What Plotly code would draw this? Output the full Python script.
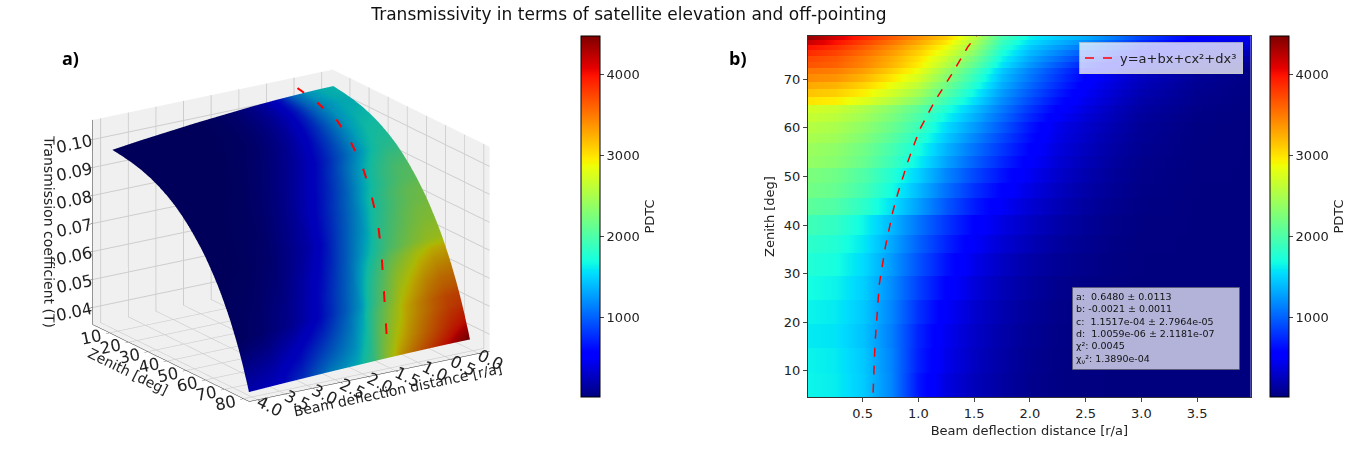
import numpy as np
import plotly.graph_objects as go

# beam deflection columns [r/a] and zenith band edges [deg]
r_cols = [0.0, 0.25, 0.5, 0.75, 1.0, 1.25, 1.5, 1.75, 2.0, 2.25, 2.5, 2.75, 3.0, 3.5, 4.0]
zen_edges = [4.6, 9.6, 14.6, 19.7, 24.6, 29.5, 34.2, 38.0, 42.0, 45.5, 48.6, 51.7, 54.3,
             56.9, 59.0, 61.3, 63.0, 64.7, 66.4, 67.9, 69.5, 71.0, 72.4, 73.6, 74.8,
             76.0, 77.1, 78.1, 78.9]

# PDTC per zenith band (bottom -> top), one value per r column
pdtc = [
    [1650, 1610, 1460, 1160, 660, 380, 240, 140, 65, 30, 15, 10, 10, 10, 10],
    [1640, 1600, 1450, 1150, 700, 420, 265, 155, 75, 33, 16, 10, 10, 10, 10],
    [1600, 1570, 1420, 1130, 720, 445, 285, 170, 88, 40, 20, 10, 10, 10, 10],
    [1640, 1600, 1450, 1160, 780, 490, 315, 195, 105, 50, 25, 12, 10, 10, 10],
    [1690, 1640, 1480, 1190, 850, 560, 360, 225, 130, 65, 35, 15, 10, 10, 10],
    [1760, 1700, 1530, 1250, 930, 640, 420, 270, 165, 95, 55, 25, 12, 10, 10],
    [1820, 1760, 1590, 1310, 1000, 720, 490, 330, 220, 130, 75, 35, 15, 10, 10],
    [1920, 1850, 1650, 1380, 1080, 800, 560, 390, 270, 170, 100, 50, 20, 10, 10],
    [2080, 2010, 1820, 1560, 1270, 950, 680, 480, 330, 220, 130, 70, 30, 10, 10],
    [2200, 2130, 1950, 1690, 1390, 1060, 780, 560, 390, 260, 160, 90, 40, 12, 10],
    [2250, 2180, 2010, 1770, 1490, 1160, 880, 640, 450, 300, 190, 110, 50, 15, 10],
    [2380, 2310, 2140, 1900, 1620, 1280, 990, 730, 510, 340, 220, 130, 60, 18, 10],
    [2420, 2350, 2190, 1960, 1700, 1360, 1070, 800, 560, 370, 250, 150, 75, 20, 10],
    [2500, 2440, 2280, 2060, 1800, 1450, 1160, 870, 610, 400, 280, 170, 90, 22, 10],
    [2560, 2500, 2350, 2150, 1900, 1530, 1250, 950, 650, 420, 300, 190, 100, 25, 10],
    [2650, 2590, 2440, 2240, 1990, 1640, 1340, 1030, 730, 490, 340, 220, 120, 35, 12],
    [2720, 2670, 2520, 2320, 2080, 1740, 1420, 1100, 800, 550, 380, 250, 145, 45, 15],
    [3000, 2950, 2790, 2560, 2300, 1900, 1550, 1180, 880, 620, 430, 290, 170, 60, 18],
    [3150, 3100, 2950, 2720, 2460, 2050, 1650, 1250, 950, 680, 470, 320, 200, 70, 20],
    [3280, 3230, 3080, 2860, 2600, 2180, 1760, 1330, 1020, 750, 510, 360, 230, 85, 23],
    [3420, 3380, 3220, 2990, 2730, 2300, 1860, 1390, 1080, 800, 550, 390, 260, 100, 27],
    [3520, 3480, 3330, 3100, 2850, 2400, 1950, 1450, 1130, 850, 590, 420, 280, 110, 30],
    [3680, 3620, 3450, 3220, 2960, 2560, 2100, 1570, 1230, 950, 700, 520, 370, 170, 80],
    [3740, 3660, 3480, 3260, 3010, 2650, 2200, 1640, 1300, 1050, 810, 620, 460, 240, 140],
    [3880, 3760, 3570, 3340, 3090, 2760, 2320, 1720, 1380, 1150, 930, 740, 560, 320, 220],
    [4000, 3860, 3650, 3420, 3170, 2870, 2420, 1800, 1450, 1250, 1060, 860, 660, 400, 300],
    [4200, 4000, 3770, 3530, 3280, 2980, 2510, 1880, 1540, 1350, 1190, 980, 760, 470, 370],
    [4400, 4150, 3900, 3650, 3400, 3100, 2600, 1950, 1620, 1450, 1320, 1100, 850, 520, 430],
]

# transmission coefficient per zenith band (at r=0) and its fall-off with r (panel a)
T_zen = [0.1040, 0.1035, 0.1028, 0.1018, 0.1004, 0.0986, 0.0966, 0.0944, 0.0918, 0.0892,
         0.0864, 0.0836, 0.0808, 0.0779, 0.0750, 0.0722, 0.0696, 0.0668, 0.0640, 0.0612,
         0.0580, 0.0550, 0.0521, 0.0492, 0.0462, 0.0430, 0.0402, 0.0375]
T_r = [1.0, 0.9995, 0.998, 0.996, 0.994, 0.991, 0.988, 0.984, 0.98, 0.976, 0.972,
       0.967, 0.962, 0.952, 0.94]

# cubic fit y=a+bx+cx^2+dx^3 (dashed red), read as points
fit_zen = [5.5, 15.6, 27.9, 35.5, 42.7, 46.5, 53.0, 59.6, 65.4, 70.9, 76.7, 78.9]
fit_r = [0.594, 0.611, 0.650, 0.704, 0.770, 0.815, 0.905, 1.010, 1.145, 1.295, 1.444, 1.520]
fit_T = [0.1052, 0.1040, 0.1013, 0.0978, 0.0935, 0.0905, 0.0845, 0.0768, 0.0680, 0.0578,
         0.0437, 0.0382]

fit_lines = ["a:  0.6480 ± 0.0113", "b: -0.0021 ± 0.0011",
             "c:  1.1517e-04 ± 2.7964e-05", "d:  1.0059e-06 ± 2.1181e-07",
             "χ²: 0.0045", "χ<sub>ν</sub>²: 1.3890e-04"]

PDTC_MIN, PDTC_MAX = 10, 4480


def mpl_jet():
    # matplotlib's jet (plotly's 'Jet' is a different ramp)
    pts = [0, 0.11, 0.125, 0.34, 0.35, 0.375, 0.64, 0.65, 0.66, 0.89, 0.91, 1]
    r = np.interp(pts, [0, 0.35, 0.66, 0.89, 1], [0, 0, 1, 1, 0.5])
    g = np.interp(pts, [0, 0.125, 0.375, 0.64, 0.91, 1], [0, 0, 1, 1, 0, 0])
    b = np.interp(pts, [0, 0.11, 0.34, 0.65, 1], [0.5, 1, 1, 0, 0])
    return [[p, f"rgb({int(255*a)},{int(255*c)},{int(255*d)})"] for p, a, c, d in zip(pts, r, g, b)]


jet = mpl_jet()
W, H = 1354, 455
TOP, BOT = 36, 0
ph = H - TOP - BOT
y0 = (H - 397) / ph          # bottom of the 2d panel in paper coords
ylen = 361 / ph

zen_mid = [(a + b) / 2 for a, b in zip(zen_edges[:-1], zen_edges[1:])]
T_grid = np.outer(T_zen, T_r)

# keep each zenith band flat: two rows per band just inside its edges
eps = 0.01
y_band, z_band = [], []
for i, row in enumerate(pdtc):
    y_band += [zen_edges[i] + eps, zen_edges[i + 1] - eps]
    z_band += [row, row]


def cbar(x):
    return dict(x=x, xanchor="left", y=y0, yanchor="bottom", len=ylen, lenmode="fraction",
                thickness=19, outlinewidth=1, outlinecolor="black", xpad=0, ypad=0,
                tickvals=[1000, 2000, 3000, 4000], ticks="outside", ticklen=4,
                tickfont=dict(size=13, color="#222"),
                title=dict(text="PDTC", side="right", font=dict(size=13, color="#222")))


fig = go.Figure()

fig.add_trace(go.Surface(
    x=r_cols, y=zen_mid, z=T_grid, surfacecolor=pdtc,
    colorscale=jet, cmin=PDTC_MIN, cmax=PDTC_MAX,
    colorbar=cbar(581 / W), showscale=True, scene="scene",
    lighting=dict(ambient=0.72, diffuse=0.4, specular=0.03, roughness=0.9),
    lightposition=dict(x=1000, y=2000, z=3000),
))
fig.add_trace(go.Scatter3d(
    x=fit_r, y=fit_zen, z=fit_T, mode="lines", scene="scene",
    line=dict(color="red", width=4, dash="longdash"), showlegend=False,
))

fig.add_trace(go.Heatmap(
    x=r_cols, y=y_band, z=z_band, colorscale=jet, zmin=PDTC_MIN, zmax=PDTC_MAX,
    zsmooth="best", colorbar=cbar(1270 / W), xaxis="x", yaxis="y", showscale=True,
))
fig.add_trace(go.Scatter(
    x=fit_r, y=fit_zen, mode="lines", name="y=a+bx+cx²+dx³",
    line=dict(color="red", width=1.5, dash="dash"), xaxis="x", yaxis="y",
))

axis3d = dict(showbackground=True, backgroundcolor="rgb(240,240,240)",
              gridcolor="rgb(205,205,205)", zeroline=False, showspikes=False,
              tickfont=dict(size=14, color="#222"), ticks="outside", ticklen=4,
              linecolor="#333", showline=True)

fig.update_layout(
    width=W, height=H,
    margin=dict(l=0, r=0, t=TOP, b=BOT),
    paper_bgcolor="white", plot_bgcolor="white",
    font=dict(family="DejaVu Sans", size=13, color="#222"),
    title=dict(text="Transmissivity in terms of satellite elevation and off-pointing",
               x=629 / W, xanchor="center", y=1 - 14 / H, yanchor="middle",
               font=dict(size=17, color="#111")),
    scene=dict(
        domain=dict(x=[0.0, 0.43], y=[0.0, 1.0]),
        xaxis=dict(axis3d, title=dict(text="Beam deflection distance [r/a]", font=dict(size=14)),
                   range=[-0.2, 4.15], tickvals=[0, 0.5, 1, 1.5, 2, 2.5, 3, 3.5, 4],
                   tickformat=".1f"),
        yaxis=dict(axis3d, title=dict(text="Zenith [deg]", font=dict(size=14)),
                   range=[1, 83], tickvals=[10, 20, 30, 40, 50, 60, 70, 80]),
        zaxis=dict(axis3d, title=dict(text="Transmission coefficient (T)", font=dict(size=14)),
                   range=[0.034, 0.107], tickvals=[0.04, 0.05, 0.06, 0.07, 0.08, 0.09, 0.10],
                   tickformat=".2f"),
        aspectmode="manual", aspectratio=dict(x=1.37, y=1.37, z=1.03),
        camera=dict(eye=dict(x=0.79, y=1.21, z=0.44), up=dict(x=0, y=0, z=1),
                    center=dict(x=0, y=0, z=-0.05),
                    projection=dict(type="orthographic")),
    ),
    xaxis=dict(domain=[808 / W, 1250.7 / W], range=[0.01, 3.98], anchor="y",
               tickvals=[0.5, 1, 1.5, 2, 2.5, 3, 3.5], tickformat=".1f",
               tickfont=dict(size=13), ticks="outside", ticklen=4, showline=True,
               mirror=True, linecolor="#333", showgrid=False, zeroline=False,
               title=dict(text="Beam deflection distance [r/a]", font=dict(size=13), standoff=6)),
    yaxis=dict(domain=[y0, 1.0], range=[4.6, 78.9], anchor="x",
               tickvals=[10, 20, 30, 40, 50, 60, 70], tickfont=dict(size=13),
               ticks="outside", ticklen=4, showline=True, mirror=True, linecolor="#333",
               showgrid=False, zeroline=False,
               title=dict(text="Zenith [deg]", font=dict(size=13), standoff=6)),
    showlegend=True,
    legend=dict(x=1243 / W, xanchor="right", y=(H - 42) / ph, yanchor="top",
                bgcolor="rgba(255,255,255,0.75)", bordercolor="rgba(200,200,200,0.8)",
                borderwidth=1, font=dict(size=13)),
    annotations=[
        dict(text="<b>a)</b>", x=60 / W, y=(H - 44) / ph, xref="paper", yref="paper",
             showarrow=False, font=dict(family="Open Sans", size=18, color="black")),
        dict(text="<b>b)</b>", x=738 / W, y=(H - 44) / ph, xref="paper", yref="paper",
             showarrow=False, font=dict(family="Open Sans", size=18, color="black")),
        dict(text="<br>".join(fit_lines), x=1072 / W, y=(H - 287) / ph, xref="paper",
             yref="paper", xanchor="left", yanchor="top", align="left", showarrow=False,
             width=160, bgcolor="rgba(255,255,255,0.7)", bordercolor="rgba(90,90,90,0.6)",
             borderwidth=1, borderpad=3, font=dict(size=9.5, color="#111")),
    ],
)

fig.write_html("out.html", config={"displayModeBar": False},
               post_script="document.body.style.margin='0';")
